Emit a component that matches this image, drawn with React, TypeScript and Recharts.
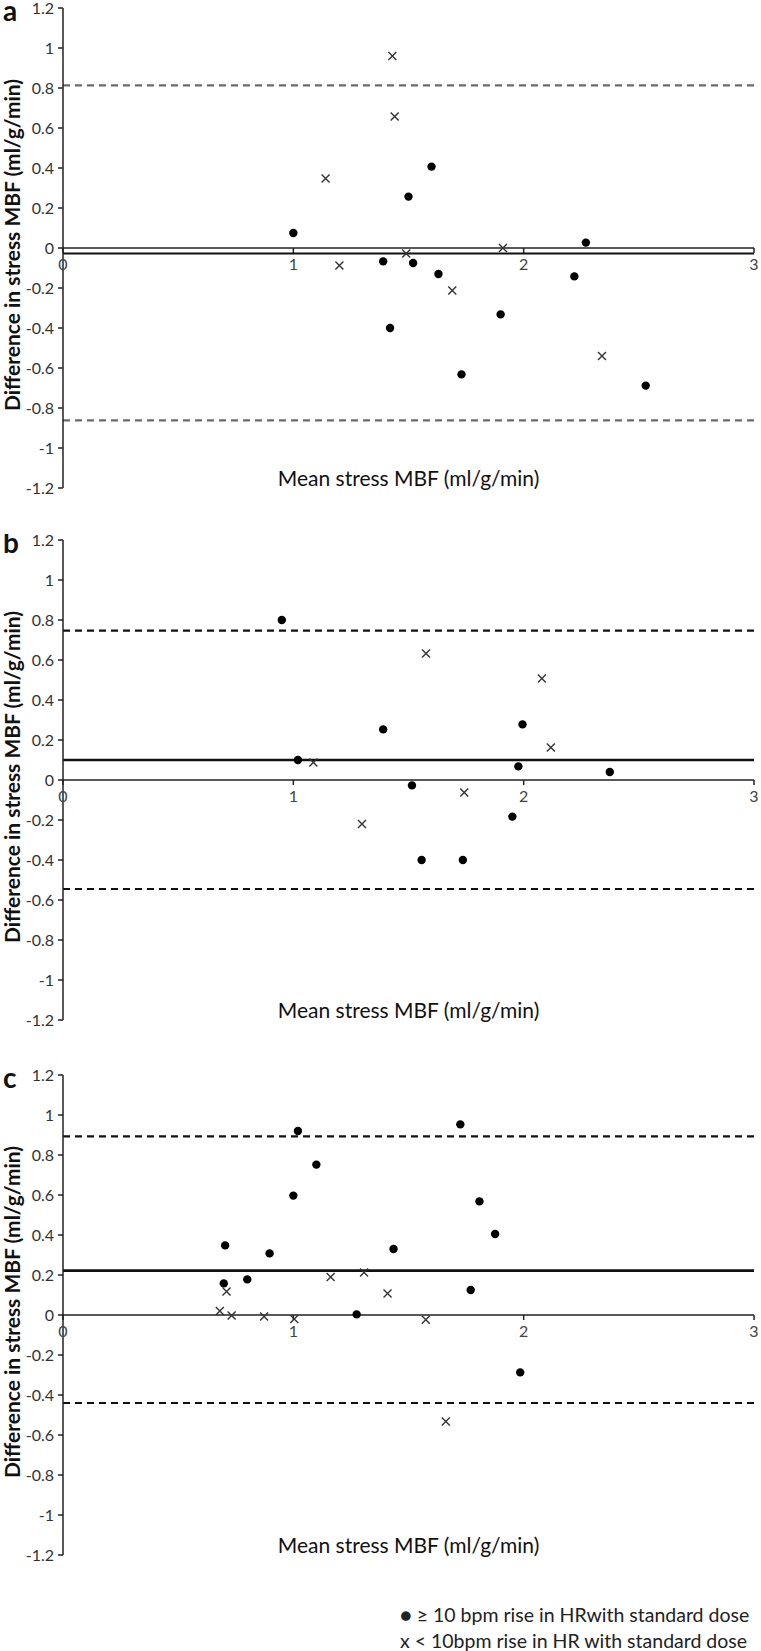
import {
  Label,
  Legend,
  ReferenceDot,
  ReferenceLine,
  Scatter,
  ScatterChart,
  XAxis,
  YAxis,
} from 'recharts';

const FONT = 'Lato, "Open Sans", sans-serif';

const PANEL_LETTERS = ['a', 'b', 'c'];
const X_TICKS = [0, 1, 2, 3];
const Y_TICKS = [-1.2, -1, -0.8, -0.6, -0.4, -0.2, 0, 0.2, 0.4, 0.6, 0.8, 1, 1.2];

// [mean MBF, difference] pairs
const A_DOTS: [number, number][] = [
  [1.0, 0.075], [1.39, -0.067], [1.42, -0.4], [1.5, 0.257], [1.52, -0.075], [1.6, 0.407],
  [1.63, -0.13], [1.73, -0.632], [1.9, -0.332], [2.22, -0.142], [2.27, 0.027], [2.53, -0.688],
];
const A_CROSSES: [number, number][] = [
  [1.14, 0.347], [1.2, -0.087], [1.43, 0.96], [1.44, 0.658], [1.49, -0.028], [1.69, -0.213],
  [1.91, 0.0], [2.34, -0.54],
];
const B_DOTS: [number, number][] = [
  [0.95, 0.8], [1.02, 0.1], [1.39, 0.253], [1.515, -0.027], [1.557, -0.4], [1.736, -0.4],
  [1.951, -0.183], [1.977, 0.068], [1.995, 0.278], [2.374, 0.04],
];
const B_CROSSES: [number, number][] = [
  [1.087, 0.088], [1.298, -0.22], [1.576, 0.633], [1.742, -0.062], [2.079, 0.508], [2.118, 0.163],
];
const C_DOTS: [number, number][] = [
  [0.698, 0.158], [0.704, 0.348], [0.8, 0.178], [0.897, 0.308], [1.0, 0.597], [1.02, 0.92],
  [1.1, 0.752], [1.275, 0.003], [1.435, 0.33], [1.725, 0.953], [1.77, 0.125], [1.808, 0.568],
  [1.876, 0.405], [1.985, -0.287],
];
const C_CROSSES: [number, number][] = [
  [0.681, 0.02], [0.71, 0.118], [0.732, -0.003], [0.873, -0.008], [1.004, -0.02], [1.162, 0.19],
  [1.307, 0.213], [1.409, 0.107], [1.575, -0.024], [1.662, -0.532],
];

const BIAS = [-0.027, 0.1, 0.222];
const UPPER_LOA = [0.813, 0.747, 0.893];
const LOWER_LOA = [-0.862, -0.545, -0.44];

const LEGEND_LABELS = [
  '≥ 10 bpm rise in HRwith standard dose',
  '< 10bpm rise in HR with standard dose',
];
const X_TITLE = 'Mean stress MBF (ml/g/min)';
const Y_TITLE = 'Difference in stress MBF (ml/g/min)';

const DOTS = [A_DOTS, B_DOTS, C_DOTS];
const CROSSES = [A_CROSSES, B_CROSSES, C_CROSSES];

const toPoints = (rows: [number, number][]) => rows.map(([x, y]) => ({ x, y }));

const DotShape = (p: any) => <circle cx={p.cx} cy={p.cy} r={4.2} fill="#000" />;
const CrossShape = (p: any) => (
  <path
    d={`M${p.cx - 4},${p.cy - 4}L${p.cx + 4},${p.cy + 4}M${p.cx + 4},${p.cy - 4}L${p.cx - 4},${p.cy + 4}`}
    stroke="#333"
    strokeWidth={1.4}
    fill="none"
  />
);

function renderLegend() {
  return (
    <div style={{ fontFamily: FONT, fontSize: 19.5, color: '#222', lineHeight: '26px', textAlign: 'left', whiteSpace: 'nowrap' }}>
      <div>● {LEGEND_LABELS[0]}</div>
      <div>x {LEGEND_LABELS[1]}</div>
    </div>
  );
}

function Panel({ idx }: { idx: number }) {
  const isLast = idx === 2;
  const top = idx === 0 ? 8 : 6;
  const height = isLast ? 582 : 534;
  const dashColor = idx === 0 ? '#6a6a6a' : '#111';
  const biasWidth = idx === 0 ? 2 : 2.6;

  const yTitle = (props: any) => {
    const vb = props.viewBox;
    const cy = vb.y + vb.height / 2 - 3;
    return (
      <g>
        <text
          x={12}
          y={cy}
          transform={`rotate(-90, 12, ${cy})`}
          textAnchor="middle"
          dominantBaseline="central"
          fontFamily={FONT}
          fontSize={20}
          fontWeight={700}
          fill="#111"
          textLength={332}
          lengthAdjust="spacingAndGlyphs"
        >
          {Y_TITLE}
        </text>
        <text x={3} y={vb.y + 13} fontFamily={FONT} fontSize={28} fontWeight={700} fill="#111">
          {PANEL_LETTERS[idx]}
        </text>
      </g>
    );
  };

  return (
    <ScatterChart
      width={761}
      height={height}
      margin={{ top, right: 7, bottom: height - top - 480, left: 0 }}
    >
      <XAxis type="number" dataKey="x" domain={[0, 3]} hide allowDataOverflow />
      <YAxis
        type="number"
        dataKey="y"
        domain={[-1.2, 1.2]}
        ticks={Y_TICKS}
        interval={0}
        width={63}
        tickSize={5}
        tickMargin={4}
        allowDataOverflow
        tickFormatter={(v: number) => String(v)}
        axisLine={{ stroke: '#222', strokeWidth: 1.5 }}
        tickLine={{ stroke: '#222', strokeWidth: 1.5 }}
        tick={{ fontSize: 16, fill: '#333', fontFamily: FONT }}
      >
        <Label content={yTitle} />
      </YAxis>

      <ReferenceLine y={0} stroke="#222" strokeWidth={1.5} />
      {X_TICKS.map((k) => (
        <ReferenceLine
          key={`t${k}`}
          segment={[{ x: k, y: 0 }, { x: k, y: -0.025 }]}
          stroke="#222"
          strokeWidth={1.5}
        />
      ))}
      {X_TICKS.map((k) => (
        <ReferenceDot
          key={`l${k}`}
          x={k}
          y={0}
          r={0}
          stroke="none"
          fill="none"
          label={{ value: String(k), position: 'bottom', offset: 11, fontSize: 16, fill: '#444', fontFamily: FONT }}
        />
      ))}
      <ReferenceLine y={BIAS[idx]} stroke="#111" strokeWidth={biasWidth} />
      <ReferenceLine y={UPPER_LOA[idx]} stroke={dashColor} strokeWidth={2.2} strokeDasharray="7 5" />
      <ReferenceLine y={LOWER_LOA[idx]} stroke={dashColor} strokeWidth={2.2} strokeDasharray="7 5" />
      <ReferenceDot
        x={1.5}
        y={-1.155}
        r={0}
        stroke="none"
        fill="none"
        label={{ value: X_TITLE, position: 'center', fontSize: 21, fill: '#111', fontFamily: FONT }}
      />

      <Scatter name={LEGEND_LABELS[0]} data={toPoints(DOTS[idx])} shape={DotShape} isAnimationActive={false} />
      <Scatter name={LEGEND_LABELS[1]} data={toPoints(CROSSES[idx])} shape={CrossShape} isAnimationActive={false} />

      {isLast && (
        <Legend
          layout="horizontal"
          align="center"
          verticalAlign="middle"
          wrapperStyle={{ top: 533, left: 400, width: 358 }}
          content={renderLegend}
        />
      )}
    </ScatterChart>
  );
}

const PANEL_TOPS = [0, 534, 1069];

export default function App() {
  return (
    <div style={{ position: 'absolute', left: 0, top: 0, width: 761, height: 1651, background: '#fff' }}>
      {PANEL_TOPS.map((top, i) => (
        <div key={i} style={{ position: 'absolute', left: 0, top }}>
          <Panel idx={i} />
        </div>
      ))}
    </div>
  );
}
